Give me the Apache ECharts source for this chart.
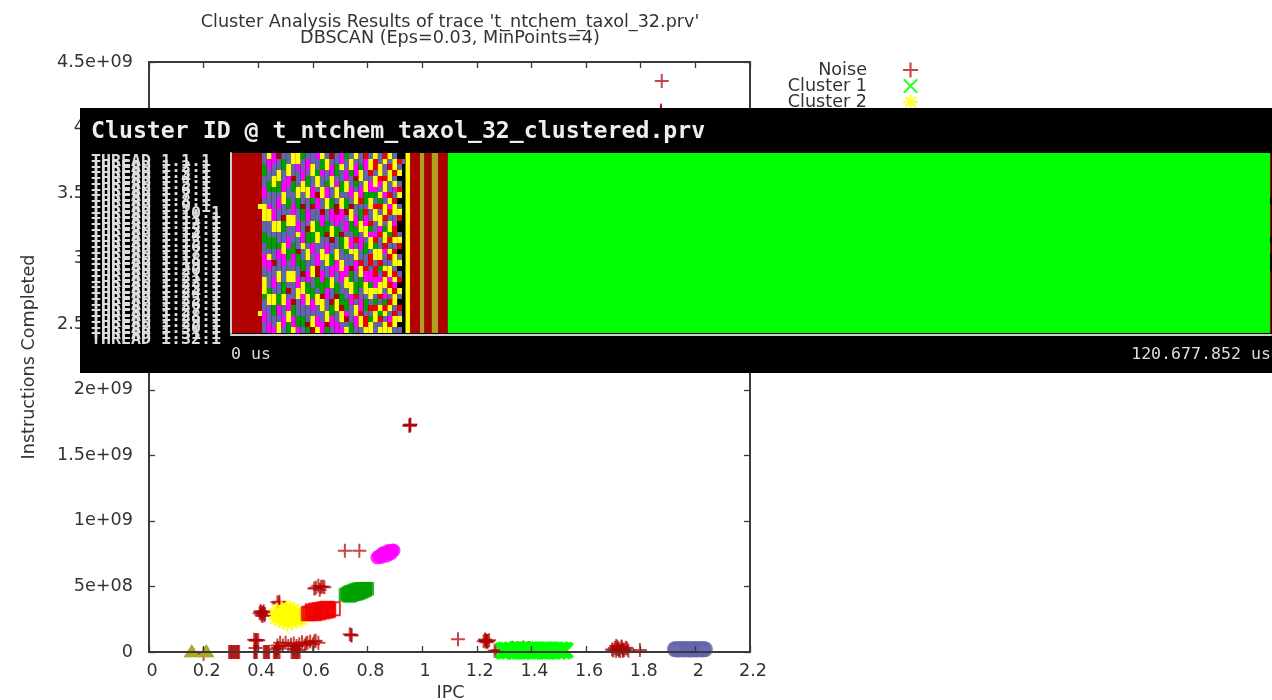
<!DOCTYPE html>
<html>
<head>
<meta charset="utf-8">
<style>html,body{margin:0;padding:0;background:#fff}#c{width:1272px;height:700px}</style>
<script src="https://cdn.jsdelivr.net/npm/echarts@6/dist/echarts.min.js"></script>
</head>
<body>
<div id="c"></div>
<script>
var xTicks = ['0','0.2','0.4','0.6','0.8','1','1.2','1.4','1.6','1.8','2','2.2'];
var yTicks = ['0','5e+08','1e+09','1.5e+09','2e+09','2.5e+09','3e+09','3.5e+09','4e+09','4.5e+09'];

var noise = [
 [1.877,4.355e9],[1.874,4.12e9],[1.874,4.13e9],[1.874,4.11e9],
 [0.955,1.73e9],[0.955,1.73e9],[0.957,1.735e9],[0.953,1.725e9],
 [0.717,7.73e8],[0.77,7.73e8],
 [0.611,4.9e8],[0.63,4.95e8],[0.642,4.93e8],[0.62,5.05e8],[0.625,4.75e8],[0.605,4.85e8],[0.636,5.0e8],
 [0.477,3.84e8],[0.477,3.7e8],[0.47,3.8e8],
 [0.416,2.95e8],[0.41,3.05e8],[0.42,3.1e8],[0.405,2.95e8],[0.425,2.9e8],[0.415,2.75e8],[0.412,2.85e8],[0.418,3.0e8],[0.408,3.1e8],[0.422,2.8e8],
 [0.74,1.3e8],[0.742,1.25e8],[0.735,1.35e8],
 [0.391,9.1e7],[0.391,8.5e7],[0.385,9.4e7],[0.4,9e7],[0.395,9.2e7],
 [0.47,5e7],[0.48,7e7],[0.49,5e7],[0.5,7e7],[0.51,4.5e7],[0.52,5.5e7],[0.53,6.5e7],[0.54,4.5e7],[0.55,6e7],[0.56,7.5e7],[0.57,5e7],[0.575,6.5e7],[0.58,7e7],[0.59,8e7],[0.6,6e7],[0.605,8e7],[0.61,8.5e7],[0.62,7e7],
 [0.2,-1.5e7],
 [0.293,0],[0.297,0],[0.301,0],[0.304,0],[0.308,0],[0.312,0],[0.315,0],[0.319,0],[0.323,0],[0.326,0],[0.33,0],
 [0.385,0],[0.388,0],[0.391,0],[0.395,0],[0.39,3e7],
 [0.42,0],[0.424,0],[0.428,0],[0.432,0],[0.436,0],[0.44,0],
 [0.457,0],[0.461,0],[0.465,0],[0.469,0],[0.473,0],[0.478,0],[0.465,2e7],[0.472,3e7],
 [0.522,0],[0.526,0],[0.53,0],[0.534,0],[0.538,0],[0.542,0],[0.546,0],[0.552,0],[0.53,2.2e7],[0.545,1.5e7],
 [1.131,9.7e7],
 [1.235,8.6e7],[1.23,9.5e7],[1.24,8e7],[1.225,8.2e7],[1.245,9e7],[1.235,7.4e7],[1.232,8.8e7],[1.238,8.3e7],
 [1.27,1e7],[1.28,1.5e7],[1.265,1e7],
 [1.33,3.2e7],[1.35,3e7],[1.37,3.4e7],[1.39,3e7],
 [1.695,2e7],[1.705,3e7],[1.71,1e7],[1.715,4e7],[1.72,2.5e7],[1.725,0.8e7],[1.73,3.5e7],[1.735,2e7],[1.74,1.5e7],[1.75,2.6e7],[1.755,1e7],[1.71,4.5e7],[1.73,4.2e7],[1.7,1.2e7],[1.72,1.2e7],[1.745,3.2e7],[1.715,2.2e7],[1.735,0.9e7],
 [1.797,1.5e7]
];
var cluster1 = [[1.295,1.2e7],[1.3,0.3e7],[1.304,1.9e7],[1.309,0.9e7],[1.313,1.6e7],[1.318,0.4e7],[1.322,1.0e7],[1.327,1.9e7],[1.331,1.4e7],[1.336,0.3e7],[1.34,0.7e7],[1.345,2.0e7],[1.349,1.7e7],[1.354,0.4e7],[1.358,1.1e7],[1.363,1.9e7],[1.367,0.6e7],[1.372,0.3e7],[1.376,1.5e7],[1.381,2.0e7],[1.385,1.2e7],[1.39,0.4e7],[1.394,0.8e7],[1.399,1.9e7],[1.403,1.6e7],[1.408,0.3e7],[1.412,1.0e7],[1.417,2.0e7],[1.421,1.4e7],[1.426,0.4e7],[1.43,0.9e7],[1.435,1.9e7],[1.439,1.7e7],[1.444,0.3e7],[1.448,1.2e7],[1.453,2.0e7],[1.457,0.6e7],[1.462,0.3e7],[1.466,1.5e7],[1.471,1.9e7],[1.475,1.0e7],[1.48,0.4e7],[1.484,1.3e7],[1.489,2.0e7],[1.493,0.9e7],[1.498,0.3e7],[1.502,1.5e7],[1.507,1.9e7],[1.511,1.1e7],[1.516,0.5e7],[1.52,1.7e7],[1.525,1.1e7]];
var cluster2 = [[0.462,2.9e8],[0.468,3.2e8],[0.47,2.65e8],[0.478,2.45e8],[0.48,3.0e8],[0.485,3.3e8],[0.49,2.8e8],[0.492,2.3e8],[0.498,3.15e8],[0.5,2.6e8],[0.505,3.38e8],[0.51,2.9e8],[0.512,2.4e8],[0.518,3.1e8],[0.52,2.7e8],[0.525,2.2e8],[0.53,3.25e8],[0.532,2.85e8],[0.538,2.55e8],[0.54,3.0e8],[0.545,2.7e8],[0.55,2.5e8],[0.552,2.9e8],[0.475,2.75e8],[0.495,2.5e8],[0.515,3.35e8],[0.506,2.15e8],[0.535,2.45e8],[0.558,2.65e8],[0.56,2.45e8],[0.465,2.55e8]];
var cluster3 = [[0.583,2.92e8],[0.588,2.95e8],[0.593,2.97e8],[0.598,3.0e8],[0.603,3.03e8],[0.608,3.05e8],[0.613,3.08e8],[0.618,3.1e8],[0.623,3.13e8],[0.628,3.15e8],[0.633,3.17e8],[0.638,3.2e8],[0.643,3.21e8],[0.648,3.23e8],[0.653,3.24e8],[0.658,3.26e8],
 [0.598,3.15e8],[0.606,2.92e8],[0.612,3.2e8],[0.62,2.98e8],[0.626,3.25e8],[0.634,3.06e8],[0.64,3.3e8],[0.646,3.1e8],[0.652,3.34e8],[0.656,3.14e8],[0.675,3.3e8]];
var cluster4 = [[0.719,4.35e8],[0.726,4.45e8],[0.733,4.54e8],[0.733,4.27e8],[0.74,4.6e8],[0.74,4.33e8],[0.748,4.65e8],[0.748,4.39e8],[0.755,4.72e8],[0.755,4.42e8],[0.763,4.77e8],[0.763,4.46e8],[0.77,4.8e8],[0.77,4.52e8],[0.777,4.81e8],[0.777,4.58e8],[0.785,4.83e8],[0.785,4.65e8],[0.792,4.83e8],[0.792,4.73e8],[0.799,4.83e8]];
var cluster5 = [[1.925,2.1e7],[1.93,2.1e7],[1.935,2.0e7],[1.94,2.0e7],[1.945,2.1e7],[1.95,2.1e7],[1.955,2.1e7],[1.96,2.0e7],[1.965,2.1e7],[1.97,2.1e7],[1.975,2.1e7],[1.98,2.0e7],[1.985,2.0e7],[1.99,2.1e7],[1.995,2.1e7],[2.0,2.1e7],[2.005,2.0e7],[2.01,2.1e7],[2.015,2.1e7],[2.02,2.1e7],[2.025,2.0e7],[2.03,2.1e7],[2.035,2.1e7]];
var cluster6 = [[0.836,7.2e8],[0.843,7.3e8],[0.85,7.35e8],[0.858,7.42e8],[0.866,7.5e8],[0.874,7.55e8],[0.882,7.65e8],[0.89,7.72e8],[0.895,7.75e8],[0.85,7.25e8],[0.875,7.7e8],[0.86,7.55e8],[0.855,7.5e8],[0.87,7.35e8],[0.885,7.5e8]];
var cluster7 = [[0.1565,1e7],[0.1565,1e7],[0.21,1e7],[0.21,1e7]];

var threadNames = [];
for (var t = 1; t <= 32; t++) threadNames.push('THREAD 1.' + t + '.1');

var traceLengthUs = 120677852;
var patternStartUs = 3600000;
var patternCellUs = 560000;
// One string per time cell, one letter per thread: P violet, M magenta, Y yellow, G dark green, R red, D dark red, K nothing
var patternColumns = [
 'PPGGPPMMPYYYPPGGPPMMPPYYYGPPMMPP',
 'YMMPPGGPPMYYPPPGGPYMMPPPGYYPPPMM',
 'MMPPYYGPPPMMYYPGGPPDPPMMPYYGGPPM',
 'DPPYYGGPMMPPYYPPGMMPPYYPPGGMMPYY',
 'PGGPPMMYYPPDGGPPYYMMPPPGGYYPPMMP',
 'PPYYMMPPGGPYYPPMMGGPPYYPDPMMYYGG',
 'YYPPDGGPPMMYYPPPGGMMPYYPPPDGGMMY',
 'YYMPPPYYGGPPMMYPPDGGPPMMYYPPPGGM',
 'GPPMMYYPPDGGPPMMYPPGGDPYYMMPPGGP',
 'PMMPGGYYPPMMPDGGPYYPPMMGGYYPPPDG',
 'PPYYPPMMGDPPYYGGMMPPYYPPGGMMPYYD',
 'MPPGYYPDMMPPGGYYPPMMDDGGPYYPPMMY',
 'YGGMPPYYPPDMMGGPPYYPPMMGGDYYPPMM',
 'PYYPPGMMYYPPGGDPMMYYPPGGMMPPYYDG',
 'DPMMYYPPGGMMPYYDPPGGMMYYPPDGGMMP',
 'PPGGPMYYPDDMMGGPPYYMMPPGGDYYPPMM',
 'MMYPPGGPYYMMPPDGGPPYYMMPPGGDYYPM',
 'GPPMMYYPGGDPMMPYYGPPMMYYPPGGMDPY',
 'PYYGPPMMPDYYGGPMMYPPDGGYYMMPPPGG',
 'YPMMDGPYYPPMMGGRPYYMMPPGGRPYYMMP',
 'PPGYYPMMRPGGYYPMMPPRYYGGPPMMRYYP',
 'RMMPPYYGGPRMMYYPGGPPRMMYYPGGPRRY',
 'PYYRPMMGYYPPRGMYYPRRPMMGYYPRPGYY',
 'YRRPYYMGPRYYPPMRGYYPRRMMYPGRYYPP',
 'PPYYRMPYGRPYYMRPPYYRGPMYYRPYGRPY',
 'RYPPRYYMPYYRPGYYRMPPYRYYPMGRYPYY',
 'YPRYYPPRYMRPYYGRPYRPYYMRYPRYPMRY',
 'PYYRPYMPRYYPMRRYPRYYPRYMRYYPRYYP',
 'KRPYKPRYKPYRKKPYRKPYKPRKYPKRPYKP'
];
var patternExtras = [[9,3120000,3600000,'Y'],[28,3120000,3600000,'Y'],[1,19840000,20200000,'P']];
// Phases common to all threads [start us, end us, colour key]
var phases = [[0,3600000,'D'],[20250000,20770000,'Y'],[20770000,21930000,'D'],[21930000,22450000,'O'],[22450000,23290000,'D'],[23290000,24020000,'O'],[24020000,25150000,'D'],[25150000,120560000,'L']];
var lastSliverRows = [0,1,2,3,4,5,6,7,9,10,11,12,13,14,16,17,21,22,23,24,25,26,27,28,29,30,31];

var palette = {P:'#6565ad',M:'#ff00ff',Y:'#ffff00',G:'#00a000',R:'#f00000',D:'#b00000',O:'#b0a020',L:'#00ff00'};

var segments = [];
threadNames.forEach(function (name, r) {
  phases.forEach(function (p) { segments.push([r, p[0], p[1], p[2]]); });
});
patternColumns.forEach(function (col, i) {
  for (var r = 0; r < col.length; r++) {
    if (col[r] !== 'K') segments.push([r, patternStartUs + i * patternCellUs, patternStartUs + (i + 1) * patternCellUs, col[r]]);
  }
});
patternExtras.forEach(function (s) { segments.push(s); });
lastSliverRows.forEach(function (r) { segments.push([r, 120560000, traceLengthUs, 'D']); });

var plusPath = 'path://M-1,-7H1V-1H7V1H1V7H-1V1H-7V-1H-1Z';
var crossPath = 'path://M-7,-5.6L-5.6,-7L7,5.6L5.6,7Z M5.6,-7L7,-5.6L-5.6,7L-7,5.6Z';
var starPath = 'path://M-1,-7H1V-1H7V1H1V7H-1V1H-7V-1H-1Z M-5.7,-4.3L-4.3,-5.7L5.7,4.3L4.3,5.7Z M4.3,-5.7L5.7,-4.3L-4.3,5.7L-5.7,4.3Z';

var axisCol = '#3a3a3a';
var font = '"DejaVu Sans"';
var mono = '"DejaVu Sans Mono"';
var sz = 17.6;

function mainAxis(extra) {
  var base = {
    gridIndex: 0, type: 'value', z: 3, splitLine: {show:false}, minorTick:{show:false},
    axisLine: {show:true, onZero:false, lineStyle:{color:axisCol, width:2}},
    axisTick: {show:true, inside:true, length:6, lineStyle:{color:axisCol, width:1.3}}
  };
  for (var k in extra) base[k] = extra[k];
  return base;
}
function pts(name, data, symbol, size, color, extra) {
  var s = {
    name: name, type: 'scatter', xAxisIndex: 0, yAxisIndex: 0, z: 2, clip: false,
    data: data, symbol: symbol, symbolSize: size, large: false,
    itemStyle: {color: color}, emphasis:{disabled:true}
  };
  for (var k in (extra||{})) s[k] = extra[k];
  return s;
}

var chart = echarts.init(document.getElementById('c'), null, {renderer:'canvas'});
chart.setOption({
  animation: false,
  backgroundColor: '#ffffff',
  title: [
    {text: "Cluster Analysis Results of trace 't_ntchem_taxol_32.prv'\nDBSCAN (Eps=0.03, MinPoints=4)",
     left: 445, top: 9, textAlign: 'center', z: 6,
     textStyle: {fontFamily: font, fontSize: sz, fontWeight:'normal', color:'#333', lineHeight:16}},
    {text: 'Cluster ID @ t_ntchem_taxol_32_clustered.prv', left: 91, top: 120, z: 40, padding:0,
     textStyle: {fontFamily: mono, fontSize: 23.2, fontWeight:'bold', color:'#eeeeee'}}
  ],
  legend: {
    orient:'vertical', right: 353, top: 61, align:'right', itemWidth:15, itemHeight:15, itemGap:-2, z:4, selectedMode:false,
    padding:0,
    textStyle:{fontFamily:font, fontSize:sz, color:'#333', padding:[0,31,0,0], lineHeight:16},
    data:['Noise',{name:'Cluster 1',itemStyle:{borderWidth:0}},'Cluster 2','Cluster 3','Cluster 4','Cluster 5','Cluster 6','Cluster 7']
  },
  graphic: [{type:'rect', z:10, silent:true, shape:{x:80,y:108,width:1192,height:265}, style:{fill:'#000000'}}],
  grid: [
    {left:149, top:62, width:601, height:590, containLabel:false, outerBoundsMode:'none'},
    {left:231, top:153, width:1040, height:180, containLabel:false, outerBoundsMode:'none'},
    {left:231, top:159, width:1040, height:184, containLabel:false, outerBoundsMode:'none'}
  ],
  xAxis: [
    mainAxis({min:0, max:2.2, interval:0.2, position:'bottom', name:'IPC', nameLocation:'center', nameGap:32,
      nameTextStyle:{fontFamily:font,fontSize:sz,color:'#333',padding:[0,0,0,2]},
      axisLabel:{fontFamily:font,fontSize:sz,color:'#333',margin:8,padding:[2,0,0,6],
        formatter:function(v){return xTicks[Math.round(v/0.2)];}}}),
    mainAxis({min:0, max:2.2, interval:0.2, position:'top', axisLabel:{show:false}}),
    {gridIndex:1, type:'value', min:0, max:traceLengthUs, interval:traceLengthUs, position:'bottom', offset:2, z:30,
      splitLine:{show:false}, axisTick:{show:false},
      axisLine:{show:true, onZero:false, lineStyle:{color:'#d0d0d0',width:2}},
      axisLabel:{fontFamily:mono,fontSize:16.6,color:'#dddddd',margin:11,showMinLabel:true,showMaxLabel:true,
        alignMinLabel:'left',alignMaxLabel:'right',
        formatter:function(v){return v===0?'0 us':'120.677.852 us';}}},
    {gridIndex:2, type:'value', min:0, max:1, show:false}
  ],
  yAxis: [
    mainAxis({min:0, max:4.5e9, interval:5e8, position:'left', name:'Instructions Completed', nameLocation:'center', nameGap:111, nameRotate:90,
      nameTextStyle:{fontFamily:font,fontSize:sz,color:'#333'},
      axisLabel:{fontFamily:font,fontSize:sz,color:'#333',margin:16,padding:[2,0,0,0],
        formatter:function(v){return yTicks[Math.round(v/5e8)];}}}),
    mainAxis({min:0, max:4.5e9, interval:5e8, position:'right', axisLabel:{show:false}}),
    {gridIndex:1, type:'category', data:threadNames, inverse:true, position:'left', z:30,
      splitLine:{show:false}, axisTick:{show:false}, axisLabel:{show:false},
      axisLine:{show:true, onZero:false, lineStyle:{color:'#d0d0d0',width:2}}},
    {gridIndex:2, type:'category', data:threadNames, inverse:true, position:'left', z:30,
      splitLine:{show:false}, axisTick:{show:false}, axisLine:{show:false},
      axisLabel:{show:true, interval:0, margin:140, align:'left', fontFamily:mono, fontWeight:'bold', fontSize:16.6, color:'#dddddd'}}
  ],
  series: [
    pts('Noise', noise, plusPath, 14, '#b00000', {itemStyle:{color:'#b00000',opacity:0.72}}),
    pts('Cluster 1', cluster1, crossPath, 15, '#00ff00', {itemStyle:{color:'#00ff00',borderColor:'#00ff00',borderWidth:1.5}}),
    pts('Cluster 2', cluster2, starPath, 15, '#ffff00'),
    pts('Cluster 3', cluster3, 'rect', 13, 'transparent', {itemStyle:{color:'rgba(0,0,0,0)',borderColor:'#f00000',borderWidth:2}}),
    pts('Cluster 4', cluster4, 'rect', 13.5, '#00a000'),
    pts('Cluster 5', cluster5, 'circle', 13, 'transparent', {itemStyle:{color:'rgba(0,0,0,0)',borderColor:'#6565ad',borderWidth:3}}),
    pts('Cluster 6', cluster6, 'circle', 14, '#ff00ff'),
    pts('Cluster 7', cluster7, 'triangle', [16,13], '#a8a820'),
    {
      name:'timeline', type:'custom', coordinateSystem:'cartesian2d', xAxisIndex:2, yAxisIndex:2, z:20, clip:false, silent:true,
      encode:{x:[1,2], y:0},
      data: segments,
      renderItem:function(params, api){
        var a = api.coord([api.value(1), api.value(0)]);
        var b = api.coord([api.value(2), api.value(0)]);
        var h = api.size([0,1])[1];
        var top = Math.round(a[1]-h/2), bottom = Math.round(a[1]+h/2);
        return {type:'rect', shape:{x:a[0], y:top, width:b[0]-a[0], height:bottom-top}, style:{fill:palette[segments[params.dataIndex][3]]}};
      }
    }
  ]
});
</script>
</body>
</html>
